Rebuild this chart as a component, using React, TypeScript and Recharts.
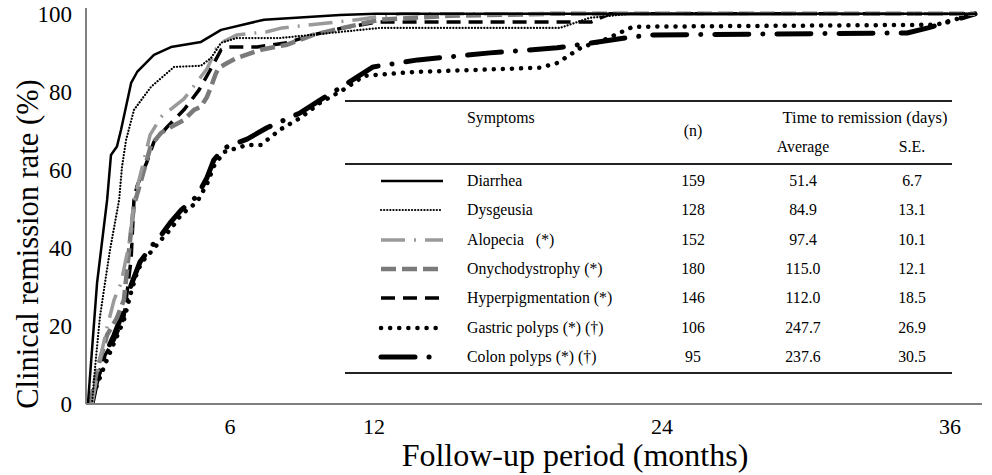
import { LineChart, Line, XAxis, YAxis } from 'recharts';

// follow-up in months, remission rate in %
const diarrheaMonths = [0.08, 0.46, 0.88, 1.04, 1.29, 1.46, 1.88, 2.13, 2.83, 3.54, 4.79, 5.63, 7.42, 10.58, 12.08, 37.04];
const diarrheaRate = [0, 31, 52.3, 63.8, 66, 70.3, 82.3, 85.1, 89.5, 91.5, 92.8, 95.9, 98.5, 99.7, 100, 100];

const dysgeusiaMonths = [0.25, 0.38, 0.58, 0.79, 1.0, 1.38, 1.5, 1.67, 2.0, 2.71, 3.67, 4.79, 5.21, 5.63, 6.29, 8.08, 12.25, 19.75, 21.0, 22.67, 37.04];
const dysgeusiaRate = [0, 9.5, 22.3, 31.0, 39.5, 52.3, 60.8, 67.7, 75.4, 81.3, 86.4, 86.7, 88.7, 92.6, 93.8, 93.8, 96.4, 96.4, 99, 100, 100];

const alopeciaMonths = [0.25, 0.58, 0.88, 1.17, 1.46, 1.83, 2.0, 2.42, 2.67, 3.13, 4.08, 5.04, 5.42, 5.63, 6.29, 7.54, 8.17, 10.17, 11.29, 13.08, 37.04];
const alopeciaRate = [0, 11.3, 19.7, 26.7, 31.0, 42.1, 52.3, 62.6, 69, 73.6, 78.2, 85.9, 91.0, 92.6, 94.6, 95.4, 96.4, 97.7, 98.5, 100, 100];

const onychoMonths = [0.17, 0.46, 0.88, 1.29, 1.58, 1.71, 1.88, 2.0, 2.42, 2.71, 3.13, 3.54, 4.08, 4.5, 4.79, 5.04, 5.21, 5.42, 5.54, 5.88, 6.29, 7.29, 8.38, 9.46, 10.71, 12.25, 15.17, 19.33, 37.04];
const onychoRate = [0, 8.7, 17.7, 22.1, 26.7, 34.4, 44.6, 51.0, 60.0, 66.4, 69.5, 71.0, 72.8, 75.4, 76.2, 78.7, 81.3, 84.9, 86.2, 87.4, 88.7, 90.8, 92.1, 94.6, 96.4, 98.5, 99.5, 100, 100];

const hyperMonths = [0.25, 0.46, 0.75, 1.17, 1.58, 1.71, 1.88, 2.0, 2.13, 2.54, 2.83, 3.38, 4.08, 4.71, 5.13, 5.63, 5.88, 7.13, 8.38, 9.46, 10.71, 12.13, 21.04, 21.83, 37.04];
const hyperRate = [0, 5.4, 12.1, 16.4, 22.3, 28.5, 37.2, 52.6, 55.9, 62.1, 67.2, 71.0, 75.4, 80.5, 85.1, 90.8, 91.5, 91.5, 92.6, 94.6, 96.4, 97.9, 97.9, 100, 100];

const gastricMonths = [0.21, 0.46, 0.75, 1.04, 1.58, 1.88, 2.13, 2.33, 2.71, 3.13, 3.54, 3.96, 4.63, 5.04, 5.33, 5.75, 6.71, 7.29, 8.08, 8.92, 9.75, 10.71, 11.58, 13.67, 18.92, 19.63, 20.67, 21.58, 22.79, 35.42, 36.46, 37.04];
const gastricRate = [0, 4.9, 9.5, 13.8, 21.5, 28.7, 33.8, 36.4, 39.0, 42.1, 44.9, 48.5, 51.8, 56.4, 61.0, 64.6, 66.4, 66.4, 70.3, 73.3, 77.2, 80.5, 84.1, 85.1, 86.2, 87.4, 91.5, 93.3, 96.7, 97.2, 99.0, 100];

const colonMonths = [0.25, 0.46, 0.75, 1.17, 1.58, 1.88, 2.25, 2.71, 3.13, 3.54, 3.96, 4.63, 5.04, 5.33, 5.75, 6.71, 7.54, 8.92, 9.75, 10.71, 11.96, 13.83, 16.83, 19.63, 22.46, 23.5, 34.21, 35.08, 37.04];
const colonRate = [0, 6.2, 12.1, 17.7, 24.1, 30.5, 36.4, 40.3, 43.3, 46.7, 49.7, 53.3, 58.0, 62.6, 65.6, 67.9, 70.8, 74.6, 77.9, 81.5, 86.4, 88.2, 90.0, 91.3, 93.8, 94.6, 95.1, 96.4, 100];

// table
const symptomNames = ['Diarrhea', 'Dysgeusia', 'Alopecia   (*)', 'Onychodystrophy (*)', 'Hyperpigmentation (*)', 'Gastric polyps (*) (\u2020)', 'Colon polyps (*) (\u2020)'];
const symptomN = ['159', '128', '152', '180', '146', '106', '95'];
const avgDays = ['51.4', '84.9', '97.4', '115.0', '112.0', '247.7', '237.6'];
const seDays = ['6.7', '13.1', '10.1', '12.1', '18.5', '26.9', '30.5'];

const xTicks = [6, 12, 24, 36];
const yTicks = [0, 20, 40, 60, 80, 100];

const toPoints = (months: number[], rate: number[]) => months.map((m, i) => ({ m, rate: rate[i] }));

const seriesData = [
  toPoints(diarrheaMonths, diarrheaRate),
  toPoints(dysgeusiaMonths, dysgeusiaRate),
  toPoints(alopeciaMonths, alopeciaRate),
  toPoints(onychoMonths, onychoRate),
  toPoints(hyperMonths, hyperRate),
  toPoints(gastricMonths, gastricRate),
  toPoints(colonMonths, colonRate),
];

interface LineStyle {
  stroke: string;
  width: number;
  dash?: string;
  cap: 'butt' | 'round';
}

const styles: LineStyle[] = [
  { stroke: '#000', width: 2.5, cap: 'butt' },
  { stroke: '#000', width: 2.2, dash: '0.1 3', cap: 'round' },
  { stroke: '#9a9a9a', width: 3.5, dash: '24 9 2 9', cap: 'butt' },
  { stroke: '#7a7a7a', width: 4.5, dash: '15 6', cap: 'butt' },
  { stroke: '#000', width: 3.5, dash: '14 8', cap: 'butt' },
  { stroke: '#000', width: 4.5, dash: '0.1 9', cap: 'round' },
  { stroke: '#000', width: 5, dash: '34 14 0.1 14', cap: 'round' },
];

const drawOrder = [6, 5, 4, 3, 2, 1, 0];

const serif = '"Liberation Serif", "Times New Roman", serif';
const rowTop = 65;
const rowH = 29.4;

function Cell({ x, y, w, children, align = 'center' }: { x: number; y: number; w: number; children: React.ReactNode; align?: 'center' | 'left' }) {
  return (
    <div style={{ position: 'absolute', left: align === 'center' ? x - w / 2 : x, top: y - 10, width: w, height: 20, lineHeight: '20px', textAlign: align, whiteSpace: 'pre' }}>
      {children}
    </div>
  );
}

function SymptomTable() {
  return (
    <div style={{ position: 'absolute', left: 345, top: 100, width: 607, height: 273, fontFamily: serif, fontSize: 15.8, color: '#000' }}>
      <div style={{ position: 'absolute', left: 0, right: 0, top: 0, borderTop: '2px solid #222' }} />
      <div style={{ position: 'absolute', left: 0, right: 0, top: 63, borderTop: '2px solid #222' }} />
      <div style={{ position: 'absolute', left: 0, right: 0, top: 272, borderTop: '2px solid #222' }} />
      <Cell x={122} y={18} w={200} align="left">Symptoms</Cell>
      <Cell x={348} y={31} w={60}>(n)</Cell>
      <div style={{ fontSize: 16.5 }}>
        <Cell x={520} y={18} w={220}>Time to remission (days)</Cell>
      </div>
      <Cell x={458} y={47} w={100}>Average</Cell>
      <Cell x={567} y={47} w={60}>S.E.</Cell>
      {symptomNames.map((name, i) => {
        const s = styles[i];
        const cy = rowTop + rowH * i + rowH / 2 + 1;
        return (
          <div key={name}>
            <svg style={{ position: 'absolute', left: 33, top: cy - 6 }} width={68} height={12}>
              <line x1={3} y1={6} x2={65} y2={6} stroke={s.stroke} strokeWidth={s.width} strokeDasharray={s.dash} strokeLinecap={s.cap} />
            </svg>
            <Cell x={122} y={cy} w={220} align="left">{name}</Cell>
            <Cell x={348} y={cy} w={60}>{symptomN[i]}</Cell>
            <Cell x={458} y={cy} w={80}>{avgDays[i]}</Cell>
            <Cell x={567} y={cy} w={60}>{seDays[i]}</Cell>
          </div>
        );
      })}
    </div>
  );
}

export default function App() {
  return (
    <div style={{ position: 'absolute', left: 0, top: 0, width: 992, height: 475, background: '#fff', fontFamily: serif }}>
      <LineChart width={992} height={475} margin={{ top: 8, right: 10, left: 0, bottom: 0 }}>
        <XAxis
          type="number"
          dataKey="m"
          domain={[0, 37.33]}
          ticks={xTicks}
          allowDataOverflow
          height={71}
          tickLine={false}
          tickMargin={8}
          axisLine={{ stroke: '#7f7f7f', strokeWidth: 2 }}
          tick={{ fontSize: 22, fill: '#000', fontFamily: serif }}
        />
        <YAxis
          type="number"
          domain={[0, 101.5]}
          ticks={yTicks}
          allowDataOverflow
          width={86}
          tickLine={false}
          tickMargin={8}
          axisLine={{ stroke: '#7f7f7f', strokeWidth: 2 }}
          tick={{ fontSize: 23, fill: '#000', fontFamily: serif }}
        />
        {drawOrder.map(i => (
          <Line
            key={i}
            data={seriesData[i]}
            dataKey="rate"
            type="linear"
            dot={false}
            stroke={styles[i].stroke}
            strokeWidth={styles[i].width}
            strokeDasharray={styles[i].dash}
            strokeLinecap={styles[i].cap}
            strokeLinejoin="round"
            isAnimationActive={false}
          />
        ))}
      </LineChart>
      <SymptomTable />
      <div style={{ position: 'absolute', left: 28, top: 244, transform: 'translate(-50%, -50%) rotate(-90deg)', fontSize: 30.5, whiteSpace: 'nowrap', color: '#000' }}>
        Clinical remission rate (%)
      </div>
      <div style={{ position: 'absolute', left: 575, top: 455, transform: 'translate(-50%, -50%)', fontSize: 32, whiteSpace: 'nowrap', color: '#000' }}>
        Follow-up period (months)
      </div>
    </div>
  );
}
